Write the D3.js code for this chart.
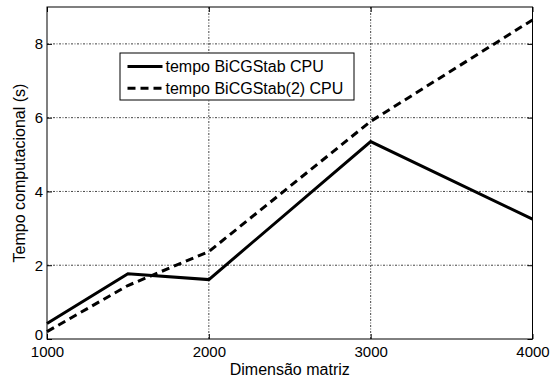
<!DOCTYPE html>
<html><head><meta charset="utf-8">
<script src="https://cdn.jsdelivr.net/npm/d3@7"></script>
<style>
body{margin:0;background:#fff;}
svg{display:block;font-family:"Liberation Sans",Arial,sans-serif;}
</style></head>
<body><svg id="c" width="560" height="379"></svg>
<script>
const dims = [1000, 1500, 2000, 3000, 4000];
const tempoBiCGStab = [0.42, 1.77, 1.61, 5.35, 3.25];
const tempoBiCGStab2 = [0.2, 1.45, 2.37, 5.9, 8.65];
const xTicks = [1000, 2000, 3000, 4000];
const yTicks = [0, 2, 4, 6, 8];
const seriesNames = ["tempo BiCGStab CPU", "tempo BiCGStab(2) CPU"];

const svg = d3.select("#c");
const L = 47, R = 532.5, T = 7, B = 339;
const x = d3.scaleLinear().domain([1000, 4000]).range([L, R]);
const y = d3.scaleLinear().domain([0, 9]).range([B, T]);

// grid
const grid = svg.append("g").attr("stroke", "#444").attr("stroke-width", 1)
  .attr("stroke-dasharray", "2,1.5,1,1.5");
xTicks.slice(1, -1).forEach(v => grid.append("line")
  .attr("x1", x(v)).attr("x2", x(v)).attr("y1", T).attr("y2", B));
yTicks.slice(1).forEach(v => grid.append("line")
  .attr("x1", L).attr("x2", R).attr("y1", y(v)).attr("y2", y(v)));

// axes
const fs = "15px";
const xAx = svg.append("g").attr("transform", `translate(0,${B})`)
  .call(d3.axisBottom(x).tickValues(xTicks).tickFormat(d3.format("d")).tickSizeInner(-5).tickSizeOuter(0).tickPadding(7));
const xTop = svg.append("g").attr("transform", `translate(0,${T})`)
  .call(d3.axisTop(x).tickValues(xTicks).tickFormat("").tickSizeInner(-5).tickSizeOuter(0));
const yAx = svg.append("g").attr("transform", `translate(${L},0)`)
  .call(d3.axisLeft(y).tickValues(yTicks).tickSizeInner(-5).tickSizeOuter(0).tickPadding(4));
const yRight = svg.append("g").attr("transform", `translate(${R},0)`)
  .call(d3.axisRight(y).tickValues(yTicks).tickFormat("").tickSizeInner(-5).tickSizeOuter(0));
[xAx, xTop, yAx, yRight].forEach(a => {
  a.select(".domain").remove();
  a.selectAll("line").attr("stroke", "#000");
  a.selectAll("text").attr("fill", "#000").style("font-size", fs)
   .style("font-family", '"Liberation Sans",Arial,sans-serif');
});
yAx.selectAll(".tick").filter(d => d === 0).select("text").attr("dy", "0.02em");

svg.append("rect").attr("x", L).attr("y", T).attr("width", R - L).attr("height", B - T)
  .attr("fill", "none").attr("stroke", "#000").attr("stroke-width", 1);

// lines
const line = d3.line().x((d, i) => x(dims[i])).y(d => y(d));
svg.append("path").datum(tempoBiCGStab).attr("d", line)
  .attr("fill", "none").attr("stroke", "#000").attr("stroke-width", 3).attr("stroke-linejoin", "miter");
svg.append("path").datum(tempoBiCGStab2).attr("d", line)
  .attr("fill", "none").attr("stroke", "#000").attr("stroke-width", 3).attr("stroke-dasharray", "8,5");

// axis labels
svg.append("text").attr("x", (L + R) / 2).attr("y", 375).attr("text-anchor", "middle")
  .style("font-size", "16px").text("Dimensão matriz");
svg.append("text").attr("transform", `translate(25,${(T + B) / 2}) rotate(-90)`)
  .attr("text-anchor", "middle").style("font-size", "16px").text("Tempo computacional (s)");

// legend
const lg = svg.append("g");
lg.append("rect").attr("x", 120).attr("y", 53).attr("width", 234).attr("height", 47)
  .attr("fill", "#fff").attr("stroke", "#000").attr("stroke-width", 1);
[0, 1].forEach(i => {
  const yy = 66.5 + i * 21.7;
  lg.append("line").attr("x1", 127.5).attr("x2", 162.5).attr("y1", yy).attr("y2", yy)
    .attr("stroke", "#000").attr("stroke-width", 3).attr("stroke-dasharray", i ? "8,5" : null);
  lg.append("text").attr("x", 165.5).attr("y", yy + 5.5).style("font-size", "16px").text(seriesNames[i]);
});
</script></body></html>
